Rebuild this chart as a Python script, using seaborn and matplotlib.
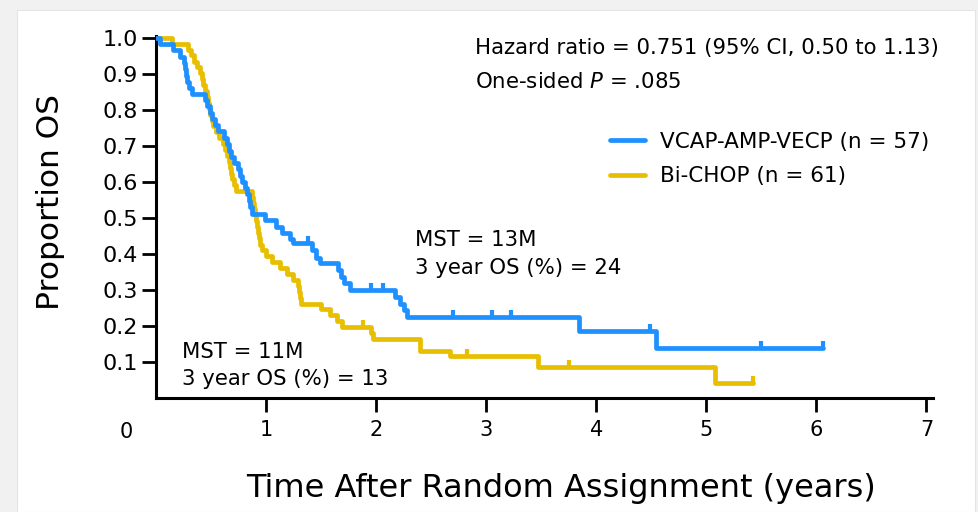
import matplotlib
matplotlib.use("Agg")
import matplotlib.pyplot as plt
import matplotlib.patches as mpatches
from matplotlib.lines import Line2D
from matplotlib.path import Path
import seaborn as sns
import pandas as pd
import numpy as np

# ---- data ----
vcap_t = [0.00, 0.04, 0.15, 0.22, 0.25, 0.265, 0.275, 0.285, 0.30, 0.33,
          0.445, 0.465, 0.49, 0.51, 0.535, 0.565, 0.62, 0.645, 0.665, 0.685,
          0.71, 0.745, 0.765, 0.785, 0.81, 0.83, 0.845, 0.855, 0.87,
          0.99, 1.09, 1.145, 1.22, 1.245, 1.42, 1.455, 1.49, 1.655, 1.68,
          1.71, 1.765, 2.175, 2.22, 2.255, 2.28, 3.84, 4.54, 6.06]
vcap_s = [1.000, 0.982, 0.965, 0.947, 0.930, 0.912, 0.895, 0.877, 0.860, 0.845,
          0.827, 0.810, 0.792, 0.775, 0.757, 0.740, 0.722, 0.705, 0.687, 0.670,
          0.652, 0.635, 0.617, 0.600, 0.582, 0.565, 0.547, 0.530, 0.512,
          0.494, 0.476, 0.459, 0.441, 0.430, 0.410, 0.390, 0.375, 0.355, 0.335,
          0.318, 0.300, 0.280, 0.262, 0.245, 0.225, 0.186, 0.139, 0.139]
vcap_cens_t = [1.38, 1.95, 2.06, 2.70, 3.05, 3.23, 4.49, 5.50, 6.06]
vcap_cens_s = [0.430, 0.300, 0.300, 0.225, 0.225, 0.225, 0.186, 0.139, 0.139]

bichop_t = [0.00, 0.145, 0.29, 0.32, 0.345, 0.37, 0.40, 0.42, 0.43, 0.445,
            0.465, 0.475, 0.485, 0.49, 0.51, 0.52, 0.545, 0.57, 0.61, 0.625,
            0.645, 0.665, 0.675, 0.685, 0.695, 0.71, 0.73, 0.875, 0.88, 0.89,
            0.90, 0.91, 0.915, 0.925, 0.935, 0.945, 0.965, 1.00, 1.055, 1.125,
            1.19, 1.245, 1.29, 1.30, 1.31, 1.32, 1.50, 1.58, 1.645, 1.69,
            1.955, 1.975, 2.40, 2.67, 3.47, 5.08, 5.42]
bichop_s = [1.000, 0.984, 0.967, 0.951, 0.934, 0.918, 0.902, 0.885, 0.869, 0.852,
            0.836, 0.820, 0.803, 0.787, 0.770, 0.754, 0.738, 0.721, 0.705, 0.689,
            0.672, 0.656, 0.639, 0.623, 0.607, 0.590, 0.574, 0.557, 0.541, 0.525,
            0.508, 0.492, 0.475, 0.459, 0.443, 0.426, 0.410, 0.393, 0.377, 0.360,
            0.344, 0.328, 0.311, 0.295, 0.279, 0.262, 0.246, 0.230, 0.213, 0.197,
            0.180, 0.164, 0.130, 0.117, 0.086, 0.042, 0.042]
bichop_cens_t = [1.88, 2.83, 3.75, 5.42]
bichop_cens_s = [0.197, 0.117, 0.086, 0.042]

x_ticks = [1, 2, 3, 4, 5, 6, 7]
y_ticks = [0.1, 0.2, 0.3, 0.4, 0.5, 0.6, 0.7, 0.8, 0.9, 1.0]
series_labels = ["VCAP-AMP-VECP (n = 57)", "Bi-CHOP (n = 61)"]
colors = ["#1E90FF", "#E8BE00"]

# ---- figure ----
sns.set_theme(style="white")
plt.rcParams['font.family'] = ['DejaVu Sans']
plt.rcParams.update({"text.color": "black", "axes.labelcolor": "black",
                     "xtick.color": "black", "ytick.color": "black"})

fig = plt.figure(figsize=(9.79, 5.12), dpi=100)
fig.patch.set_facecolor("#f1f1f1")
panel = mpatches.Rectangle((17 / 979, 0), (975 - 17) / 979, 1 - 10 / 512,
                           transform=fig.transFigure, facecolor="white",
                           edgecolor="#e4e4e4", lw=0.8, zorder=-10)
fig.patches.append(panel)

ax = fig.add_axes([156 / 979, 1 - 398 / 512, (933 - 156) / 979, (398 - 36) / 512])
ax.set_zorder(5)
ax.set_facecolor("none")

df_v = pd.DataFrame({"t": vcap_t, "s": vcap_s})
df_b = pd.DataFrame({"t": bichop_t, "s": bichop_s})
sns.lineplot(data=df_v, x="t", y="s", ax=ax, color=colors[0], lw=3.4,
             drawstyle="steps-post", estimator=None, sort=False, zorder=3)
sns.lineplot(data=df_b, x="t", y="s", ax=ax, color=colors[1], lw=3.4,
             drawstyle="steps-post", estimator=None, sort=False, zorder=2)

tick_marker = Path([(0, 0), (0, 1)], [Path.MOVETO, Path.LINETO])
sns.scatterplot(x=vcap_cens_t, y=vcap_cens_s, ax=ax, marker=tick_marker, s=110,
                edgecolor=colors[0], facecolor="none", linewidth=3.0, zorder=4)
sns.scatterplot(x=bichop_cens_t, y=bichop_cens_s, ax=ax, marker=tick_marker, s=110,
                edgecolor=colors[1], facecolor="none", linewidth=3.0, zorder=4)

ax.set_xlim(0, 7.06)
ax.set_ylim(0, 1.005)
ax.set_xticks(x_ticks)
ax.set_xticklabels([str(v) for v in x_ticks], fontsize=15)
ax.set_yticks(y_ticks)
ax.set_yticklabels([f"{v:.1f}" for v in y_ticks], fontsize=16)
ax.tick_params(axis="both", direction="out", length=10, width=2, color="black",
               left=True, bottom=True, pad=3)
ax.tick_params(axis="x", pad=6)
for side in ["top", "right"]:
    ax.spines[side].set_visible(False)
for side in ["left", "bottom"]:
    ax.spines[side].set_color("black")
    ax.spines[side].set_linewidth(2.2)

ax.text(-0.27, -0.094, "0", transform=ax.transData, fontsize=15,
        ha="center", va="center", clip_on=False)

ax.set_ylabel("Proportion OS", fontsize=22.5)
ax.yaxis.set_label_coords(-(156 - 50) / 777, (398 - 202) / 362)
ax.set_xlabel("Time After Random Assignment (years)", fontsize=23)
ax.xaxis.set_label_coords((561 - 156) / 777, -(488 - 398) / 362)
ax.xaxis.label.set_va("center")
ax.yaxis.label.set_va("center")

fs = 15.3
ax.text(475 / 979, 1 - 48 / 512, "Hazard ratio = 0.751 (95% CI, 0.50 to 1.13)",
        transform=fig.transFigure, fontsize=fs, ha="left", va="center")
ax.text(475 / 979, 1 - 82 / 512, "One-sided $\\it{P}$ = .085",
        transform=fig.transFigure, fontsize=fs, ha="left", va="center")

ax.text(415 / 979, 1 - 240 / 512, "MST = 13M", transform=fig.transFigure,
        fontsize=fs, ha="left", va="center")
ax.text(415 / 979, 1 - 268 / 512, "3 year OS (%) = 24", transform=fig.transFigure,
        fontsize=fs, ha="left", va="center")
ax.text(182 / 979, 1 - 352 / 512, "MST = 11M", transform=fig.transFigure,
        fontsize=fs, ha="left", va="center")
ax.text(182 / 979, 1 - 379 / 512, "3 year OS (%) = 13", transform=fig.transFigure,
        fontsize=fs, ha="left", va="center")

handles = [Line2D([], [], color=c, lw=3.4) for c in colors]
ax.legend(handles, series_labels, loc="upper left",
          bbox_to_anchor=(610 / 979, 1 - 132 / 512), bbox_transform=fig.transFigure,
          frameon=False, fontsize=15.5, handlelength=1.63, handletextpad=0.7,
          labelspacing=0.66, borderpad=0, borderaxespad=0)

fig.savefig("out.png", dpi=100, facecolor=fig.get_facecolor())
